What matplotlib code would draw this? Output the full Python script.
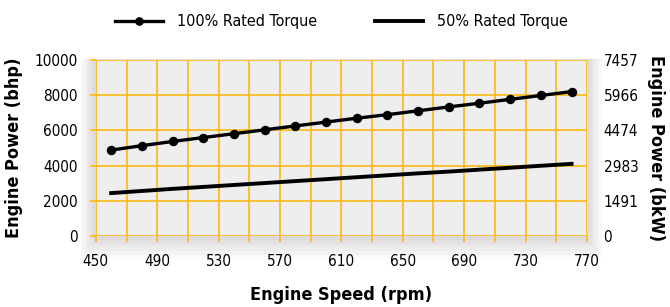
import matplotlib.pyplot as plt
from matplotlib.patches import Rectangle

plt.rcParams['font.family'] = ['DejaVu Sans']
plt.rcParams['font.stretch'] = 'condensed'

###data
speed = [460, 480, 500, 520, 540, 560, 580, 600, 620, 640, 660, 680, 700, 720, 740, 760]
power_100 = [4880, 5130, 5370, 5590, 5810, 6030, 6250, 6470, 6690, 6890, 7110, 7330, 7540, 7760, 7980, 8200]
power_50 = [2440, 2560, 2680, 2790, 2900, 3010, 3120, 3230, 3340, 3450, 3560, 3660, 3770, 3880, 3990, 4100]
bhp_ticks = [0, 2000, 4000, 6000, 8000, 10000]
bkw_labels = ['0', '1491', '2983', '4474', '5966', '7457']
rpm_labels = [450, 490, 530, 570, 610, 650, 690, 730, 770]

grid_col = '#FDB913'

fig = plt.figure(figsize=(6.7, 3.07), dpi=100)
ax = fig.add_axes([0.143, 0.231, 0.733, 0.574])
ax.set_zorder(2)

###soft shadow behind the plot area
for i in range(6):
    pad = (6 - i) * 2.5 / 670
    padv = (6 - i) * 2.5 / 307
    fig.patches.append(Rectangle((0.143 - pad, 0.231 - padv * 1.5), 0.733 + 2 * pad, 0.574 + padv * 1.6,
                                 transform=fig.transFigure, facecolor='k', alpha=0.025,
                                 edgecolor='none', zorder=0))

ax.set_facecolor('#EEEEEE')
ax.plot(speed, power_100, color='black', lw=2.4, marker='o', ms=5.8, label='100% Rated Torque', zorder=5)
ax.plot(speed, power_50, color='black', lw=2.8, label='50% Rated Torque', zorder=5)

ax.set_xlim(450, 770)
ax.set_ylim(0, 10000)
ax.set_xticks(range(450, 771, 20))
ax.set_xticklabels([str(v) if v in rpm_labels else '' for v in range(450, 771, 20)])
ax.set_yticks(bhp_ticks)
ax.grid(True, color=grid_col, lw=1.2, zorder=1)
ax.set_axisbelow(True)
for s in ax.spines.values():
    s.set_visible(False)
ax.tick_params(colors=grid_col, labelcolor='black', labelsize=11, length=4, width=1.2)
ax.tick_params(axis='x', pad=9)
ax.tick_params(axis='y', pad=9)

ax2 = ax.twinx()
ax2.set_zorder(3)
ax2.set_ylim(0, 10000)
ax2.set_yticks(bhp_ticks)
ax2.set_yticklabels(bkw_labels)
for s in ax2.spines.values():
    s.set_visible(False)
ax2.tick_params(length=0, labelsize=11, pad=12)

ax.set_xlabel('Engine Speed (rpm)', fontsize=13, fontweight='bold', labelpad=12)
ax.set_ylabel('Engine Power (bhp)', fontsize=13, fontweight='bold', labelpad=8)
ax2.set_ylabel('Engine Power (bkW)', fontsize=13, fontweight='bold', rotation=-90, labelpad=19)

fig.legend(loc='upper center', bbox_to_anchor=(0.51, 1.0), ncol=2, frameon=False,
           fontsize=11.5, handlelength=3.0, columnspacing=3.6, handletextpad=0.9, markerscale=0.9)

plt.savefig('out.png', dpi=100)
